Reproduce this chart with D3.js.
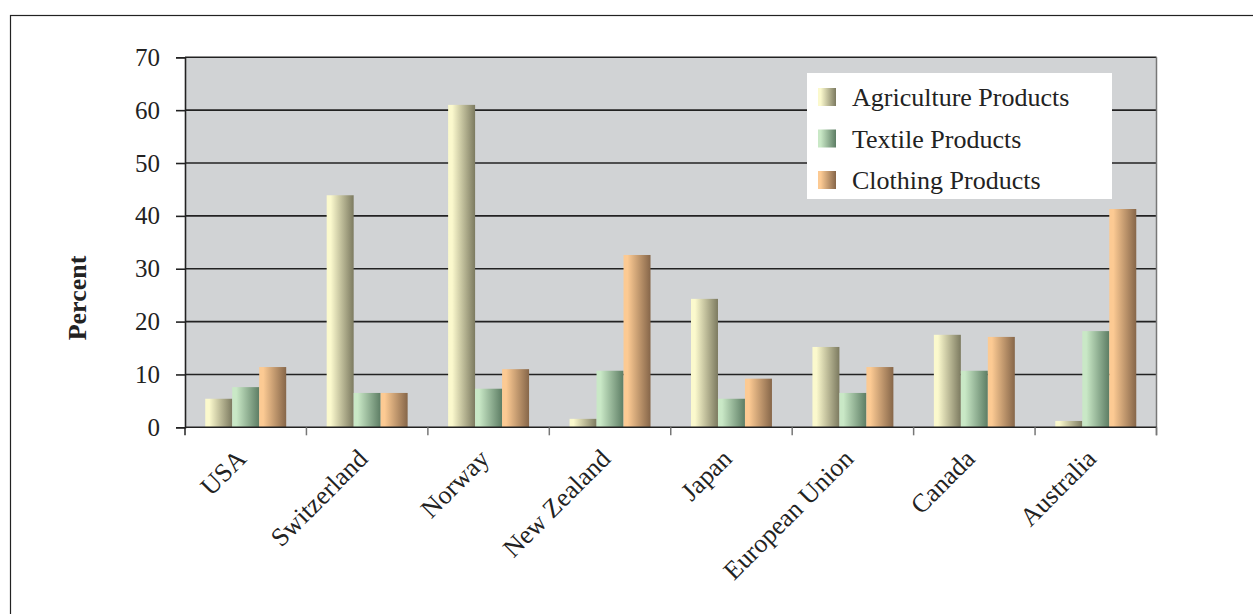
<!DOCTYPE html>
<html><head><meta charset="utf-8">
<script src="https://cdn.jsdelivr.net/npm/d3@7"></script>
<style>body{margin:0;background:#fff;}svg{display:block;font-family:"Liberation Serif","Times New Roman",serif;}</style>
</head><body>
<svg id="c" width="1253" height="614"></svg>
<script>
const categories = ["USA","Switzerland","Norway","New Zealand","Japan","European Union","Canada","Australia"];
const seriesNames = ["Agriculture Products","Textile Products","Clothing Products"];
const agriculture = [5.4, 43.9, 61.0, 1.6, 24.3, 15.2, 17.5, 1.2];
const textile = [7.6, 6.5, 7.3, 10.7, 5.4, 6.5, 10.7, 18.2];
const clothing = [11.4, 6.5, 11.0, 32.6, 9.2, 11.4, 17.1, 41.3];
const yTicks = [0,10,20,30,40,50,60,70];
const yLabel = "Percent";

const series = [agriculture, textile, clothing];
const gradStops = [["#fbf9cd","#7c7a60"],["#c9e8c6","#5d7d64"],["#fcca93","#866649"]];

const svg = d3.select("#c");
const L=185, T=57.3, R=1156.5, B=427.3;

// outer border
svg.append("rect").attr("x",10.5).attr("y",15.5).attr("width",1260).attr("height",620)
  .attr("fill","none").attr("stroke","#222").attr("stroke-width",1.2);

const defs = svg.append("defs");
gradStops.forEach((g,i)=>{
  const lg = defs.append("linearGradient").attr("id","g"+i).attr("x1","0").attr("x2","1").attr("y1","0").attr("y2","0");
  lg.append("stop").attr("offset","0%").attr("stop-color",g[0]);
  lg.append("stop").attr("offset","15%").attr("stop-color",g[0]);
  lg.append("stop").attr("offset","100%").attr("stop-color",g[1]);
});

const x = d3.scaleBand().domain(categories).range([L,R]).paddingInner(0).paddingOuter(0);
const y = d3.scaleLinear().domain([0,70]).range([B,T]);
const bw = x.bandwidth()/4.5;
const xs = d3.scaleBand().domain(d3.range(3)).range([bw*0.75, bw*3.75]).padding(0);

svg.append("rect").attr("x",L).attr("y",T).attr("width",R-L).attr("height",B-T).attr("fill","#d1d3d5");

// gridlines
svg.append("g").selectAll("line").data(yTicks.filter(d=>d>0)).join("line")
  .attr("x1",L).attr("x2",R).attr("y1",d=>y(d)).attr("y2",d=>y(d))
  .attr("stroke","#222").attr("stroke-width",1.6);

// bars
categories.forEach((c,ci)=>{
  series.forEach((s,si)=>{
    svg.append("rect")
      .attr("x",x(c)+xs(si)).attr("width",xs.bandwidth())
      .attr("y",y(s[ci])).attr("height",y(0)-y(s[ci]))
      .attr("fill",`url(#g${si})`);
  });
});

// right border of plot
svg.append("line").attr("x1",R).attr("x2",R).attr("y1",T).attr("y2",B+8).attr("stroke","#777").attr("stroke-width",1.5);

// y axis
const ya = svg.append("g").attr("transform",`translate(${L},0)`)
  .call(d3.axisLeft(y).tickValues(yTicks).tickSize(9).tickPadding(16));
ya.select(".domain").attr("stroke","#222").attr("stroke-width",1.6);
ya.selectAll(".tick line").attr("stroke","#222").attr("stroke-width",1.6);
ya.selectAll("text").attr("font-size",25).attr("fill","#222").attr("font-family","Liberation Serif");

// x axis baseline and ticks
svg.append("line").attr("x1",L).attr("x2",R).attr("y1",B).attr("y2",B).attr("stroke","#222").attr("stroke-width",1.6);
const bounds = categories.map(c=>x(c)).concat([R]);
svg.append("g").selectAll("line").data(bounds).join("line")
  .attr("x1",d=>d).attr("x2",d=>d).attr("y1",B).attr("y2",B+8)
  .attr("stroke",(d,i)=>i===0?"#222":"#777").attr("stroke-width",1.5);

// category labels
svg.append("g").selectAll("text").data(categories).join("text")
  .attr("transform",c=>`translate(${x(c)+x.bandwidth()/2+2},${B+33}) rotate(-45)`)
  .attr("text-anchor","end").attr("font-size",26).attr("fill","#222").text(d=>d);

// y label
svg.append("text").attr("transform",`translate(86,298) rotate(-90)`)
  .attr("text-anchor","middle").attr("font-size",26).attr("font-weight","bold").attr("fill","#222").text(yLabel);

// legend
const lg = svg.append("g");
lg.append("rect").attr("x",807).attr("y",73).attr("width",305).attr("height",126).attr("fill","#fff");
seriesNames.forEach((n,i)=>{
  const cy = 97 + i*41.5;
  lg.append("rect").attr("x",818).attr("y",cy-9).attr("width",18).attr("height",18).attr("fill",`url(#g${i})`);
  lg.append("text").attr("x",852).attr("y",cy+9).attr("font-size",26).attr("fill","#222").text(n);
});
</script>
</body></html>
